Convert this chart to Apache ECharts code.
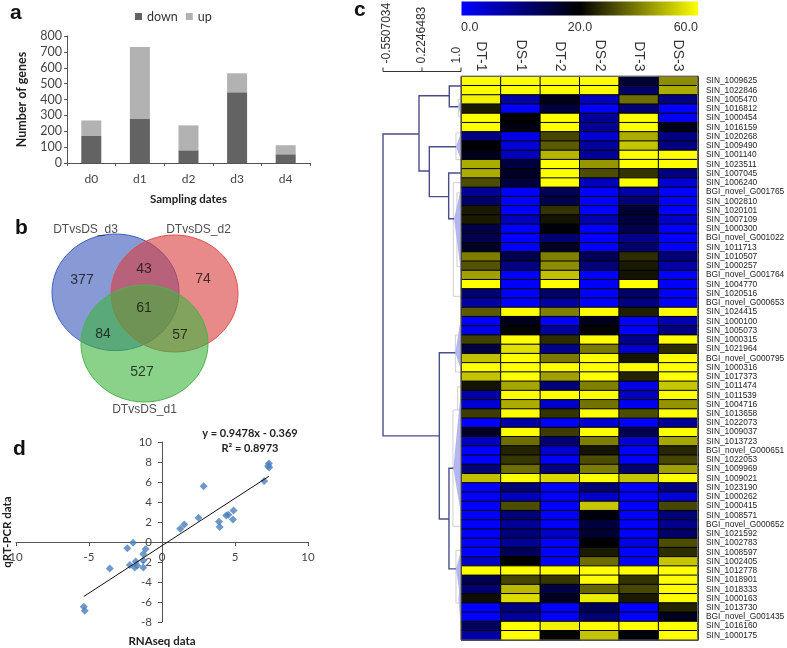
<!DOCTYPE html>
<html><head><meta charset="utf-8">
<style>html,body{margin:0;padding:0;background:#fff}#c{width:787px;height:648px}</style>
<script src="https://cdn.jsdelivr.net/npm/echarts@6/dist/echarts.min.js"></script>
</head><body><div id="c"></div>
<script>
// ---- panel a
const dates = ['d0','d1','d2','d3','d4'];
const downGenes = [170,280,80,445,55];
const upGenes = [98,450,157,120,57];
// ---- panel b
const vennNames = ['DTvsDS_d3','DTvsDS_d2','DTvsDS_d1'];
const vennCounts = [377,43,74,61,84,57,527];
// ---- panel c
const conditions = ['DT-1','DS-1','DT-2','DS-2','DT-3','DS-3'];
const genes = ['SIN_1009625','SIN_1022846','SIN_1005470','SIN_1016812','SIN_1000454','SIN_1016159','SIN_1020268','SIN_1009490','SIN_1001140','SIN_1023511','SIN_1007045','SIN_1006240','BGI_novel_G001765','SIN_1002810','SIN_1020101','SIN_1007109','SIN_1000300','BGI_novel_G001022','SIN_1011713','SIN_1010507','SIN_1000257','BGI_novel_G001764','SIN_1004770','SIN_1020516','BGI_novel_G000653','SIN_1024415','SIN_1000100','SIN_1005073','SIN_1000315','SIN_1021964','BGI_novel_G000795','SIN_1000316','SIN_1017373','SIN_1011474','SIN_1011539','SIN_1004716','SIN_1013658','SIN_1022073','SIN_1009037','SIN_1013723','BGI_novel_G000651','SIN_1022053','SIN_1009969','SIN_1009021','SIN_1023190','SIN_1000262','SIN_1000415','SIN_1008571','BGI_novel_G000652','SIN_1021592','SIN_1002783','SIN_1008597','SIN_1002405','SIN_1012778','SIN_1018901','SIN_1018333','SIN_1000163','SIN_1013730','BGI_novel_G001435','SIN_1016160','SIN_1000175'];
const dt1 = [60,60,58,24,60,60,10,20,18,47,47,32,8,12,24,24,14.5,14,17,39.6,33,45,60,11,7,34,0,2,30,15,50,60,50.5,23,7,3.5,29.4,0,17,5,0,0,10.5,50,0,0,0,0,0,0,0,0,4.3,60,14,11,22,0,0,13,7];
const ds1 = [60,60,7,0,20,18.5,2,3,5,15,17,15,0.5,0,0,5,0,0,0,14,10,0,0,0,0,60,18,20.5,60,55,60,60,60,46,60,46.7,60,7,60,37,25.5,28.6,37,60,10.5,5,32,10.5,8,10.5,8,13,20.5,60,31,49,54.5,10,8,60,60];
const dt2 = [60,60,18,15,60,60,31,34,48,60,60,60,13,14,28,23,19,11,17,40,42,50,60,12,7,40,0,7.5,27,9,39,60,45,10.5,60,4.3,28,0,29.4,11,3.5,0,10,54,0,0,0,0,0,4.3,0,0,0,60,28.6,14.5,17.6,0,0,57.6,20.5];
const ds2 = [60,60,5,0,8,8,3.5,7.5,8,43.5,32,5,0,0,0,6,0,0,0,13,10.5,0,0,0,0,60,18,20.5,60,39,60,60,60,40,60,38,60,3.5,60,39.6,23,32,39.6,60,11,4.3,51,19,15,16,19.6,24,37,60,60,35.7,57,13,11,60,50.5];
const dt3 = [16,12,37,11,60,60,47,51,60,60,28,60,7,10.5,16,15,14,9,11,27,24,23,60,12,10,25,0,0,9,3.5,23,60,25.5,2,5,1,32,0,14,3.5,0,0,11,50.5,0,0,0,0,0,0,2,0,0,60,28,31,24,0,0,60,19];
const ds3 = [42,47,10,0,1,18,10,10,60,60,10,3.5,0,0,0,4,0,0,0,10.5,7,0,0,0,0,60,6,10,60,27,60,60,60,51,60,43,60,8,60,46,26,31,45,60,10,3,31,10.5,9,12,32,27,51,60,60,60,60,25.5,17.6,60,60];
const columns = [dt1,ds1,dt2,ds2,dt3,ds3];
const colorTicks = ['0.0','20.0','60.0'];
const treeTicks = [-0.5507034,0.2246483,1.0];
const treeTickLabels = ['-0.5507034','0.2246483','1.0'];
// dendrogram: distance, row position
const treeLinks = [
 [[0.165,6.22],[-0.5507,6.22],[-0.5507,38.9],[0.569,38.9]],
 [[0.767,2.08],[0.165,2.08],[0.165,10.23],[0.370,10.23]],
 [[1,1.03],[0.767,1.03],[0.767,3.27],[0.946,3.27]],
 [[0.90,7.6],[0.370,7.6],[0.370,13.0],[0.755,13.0]],
 [[1,10.45],[0.755,10.45],[0.755,15.4],[0.861,15.4]],
 [[0.887,29.9],[0.569,29.9],[0.569,47.9],[0.761,47.9]],
 [[0.847,42.4],[0.761,42.4],[0.761,53.3],[0.90,53.3]]
];
const treeWedges = [[0.946,3.27,2.45,4.3],[0.90,7.6,6.1,9.0],[0.861,15.4,12.07,21.2],[0.887,29.9,26.0,31.8],[0.847,42.4,33.9,47.4],[0.90,53.3,51.3,57],[0.95,56.5,53,60]];
const treeBrackets = [[0.946,2.45,4.3],[0.90,6.1,9.0],[0.847,11.5,23.8],[0.92,12.6,20.6],[0.887,28,32],[0.934,33.6,36.1],[0.84,36.1,48.7],[0.90,51.3,57]];
// ---- panel d
const rnaSeq = [7.32,7.27,7.34,7.0,2.85,4.9,4.54,4.4,4.86,3.9,3.95,2.5,1.53,1.25,-1.98,-2.37,-1.12,-1.28,-1.28,-1.8,-2.2,-1.7,-1.87,-1.28,-3.58,-5.36,-5.29];
const qrtPcr = [7.84,7.6,7.44,6.1,5.58,3.16,2.72,2.66,2.26,2.03,1.5,2.43,1.76,1.33,-0.07,-0.63,-0.7,-1.2,-1.86,-1.96,-2.3,-2.36,-2.56,-2.56,-2.66,-6.48,-6.88];
const trendX = [-5.36,7.32];
const trendY = [-5.45,6.57];

// layout helpers (not data)
const latin = 'Lato, "Open Sans", sans-serif';
const arial = '"Liberation Sans", Arial, sans-serif';
const vennShapes = [[115.5,292.3,63.5,58.3,'#3956bb','#4060c0'],[174.5,293.5,63.5,58.5,'#d93c3c','#e05050'],[144.5,343.5,63.5,58.5,'#3cb43c','#50b050']];
const vennTextAt = [[82,280],[144,269],[203,279],[144,308],[103,334],[180,335],[142,372]];
const vennNameAt = [[85.5,230],[198.5,230],[144.5,410]];

const heat = [];
columns.forEach((col,c)=>col.forEach((v,r)=>heat.push([c,r,v])));

const option = {
 animation:false,
 backgroundColor:'#fff',
 textStyle:{fontFamily:latin},
 legend:{data:['down','up'],left:130,top:5,itemWidth:7,itemHeight:7,itemGap:8,icon:'rect',textStyle:{fontFamily:latin,fontSize:12.5,color:'#333'}},
 visualMap:{show:false,seriesIndex:2,min:0,max:60,inRange:{color:['#0000ff','#000000','#808000','#ffff00']}},
 grid:[
  {left:67,top:36,width:243,height:127,outerBoundsMode:'none'},
  {left:16,top:442,width:292,height:180,outerBoundsMode:'none'},
  {left:461.5,top:76.5,width:236.5,height:563.5,outerBoundsMode:'none'},
  {left:383,top:76.5,width:78,height:563.5,outerBoundsMode:'none'},
  {left:0,top:0,width:787,height:648,outerBoundsMode:'none'}
 ],
 xAxis:[
  {gridIndex:0,type:'category',data:dates,axisTick:{show:true,alignWithLabel:false,length:3},axisLine:{lineStyle:{color:'#555'}},axisLabel:{color:'#444',fontSize:12,margin:10,fontFamily:latin},name:'Sampling dates',nameLocation:'middle',nameGap:30,nameTextStyle:{fontFamily:latin,fontWeight:'bold',fontSize:11.5,color:'#222'}},
  {gridIndex:1,type:'value',min:-10,max:10,interval:5,offset:-80,axisLine:{onZero:false,lineStyle:{color:'#555'}},axisTick:{show:true,length:4,inside:false},splitLine:{show:false},axisLabel:{color:'#444',fontSize:11.5,margin:9,formatter:v=>v===-10?'10':String(v),fontFamily:latin},name:'RNAseq data',nameLocation:'middle',nameGap:93,nameMoveOverlap:false,nameTextStyle:{fontFamily:latin,fontWeight:'bold',fontSize:11.5,color:'#222'}},
  {gridIndex:2,type:'category',position:'top',data:conditions,axisLine:{show:false},axisTick:{show:false},splitArea:{show:false},axisLabel:{rotate:90,color:'#333',fontSize:14,margin:5,fontFamily:arial}},
  {gridIndex:3,type:'value',show:false,min:-0.5507034,max:1},
  {gridIndex:4,type:'value',show:false,min:0,max:787}
 ],
 yAxis:[
  {gridIndex:0,type:'value',min:0,max:800,interval:100,axisLine:{show:true,lineStyle:{color:'#555'}},axisTick:{show:true,length:3},splitLine:{show:false},axisLabel:{color:'#444',fontSize:12.5,margin:5,fontFamily:latin},name:'Number of genes',nameLocation:'middle',nameGap:39,nameTextStyle:{fontFamily:latin,fontWeight:'bold',fontSize:12.5,color:'#222'}},
  {gridIndex:1,type:'value',min:-8,max:10,interval:2,offset:-146,axisLine:{show:true,onZero:false,lineStyle:{color:'#555'}},axisTick:{show:true,length:4},splitLine:{show:false},axisLabel:{color:'#444',fontSize:11.5,margin:10,fontFamily:latin},name:'qRT-PCR data',nameLocation:'middle',nameGap:149,nameMoveOverlap:false,nameTextStyle:{fontFamily:latin,fontWeight:'bold',fontSize:11.5,color:'#222'}},
  {gridIndex:2,type:'category',inverse:true,position:'right',data:genes,axisLine:{show:false},axisTick:{show:false},axisLabel:{interval:0,color:'#222',fontSize:8.4,margin:8,fontFamily:arial}},
  {gridIndex:3,type:'value',show:false,min:0,max:61,inverse:true},
  {gridIndex:4,type:'value',show:false,min:0,max:648,inverse:true}
 ],
 series:[
  {type:'bar',name:'down',stack:'g',data:downGenes,xAxisIndex:0,yAxisIndex:0,barWidth:20,itemStyle:{color:'#636363'}},
  {type:'bar',name:'up',stack:'g',data:upGenes,xAxisIndex:0,yAxisIndex:0,barWidth:20,itemStyle:{color:'#b2b2b2'}},
  {type:'heatmap',data:heat,xAxisIndex:2,yAxisIndex:2,itemStyle:{borderColor:'#000',borderWidth:1}},
  {type:'scatter',data:rnaSeq.map((x,i)=>[x,qrtPcr[i]]),xAxisIndex:1,yAxisIndex:1,symbol:'diamond',symbolSize:8,itemStyle:{color:'#4a7ebb'}},
  {type:'line',data:trendX.map((x,i)=>[x,trendY[i]]),xAxisIndex:1,yAxisIndex:1,symbol:'none',lineStyle:{color:'#111',width:1}},
  // heat map frame
  {type:'custom',xAxisIndex:3,yAxisIndex:3,data:[[0,0]],silent:true,z:5,renderItem:(p,api)=>{
    const a=api.coord([1,0]),b=api.coord([1,61]);
    return {type:'rect',shape:{x:a[0],y:a[1],width:236.5,height:b[1]-a[1]},style:{fill:'none',stroke:'#666',lineWidth:1}};
  }},
  // dendrogram wedges
  {type:'custom',xAxisIndex:3,yAxisIndex:3,data:treeWedges,silent:true,z:2,renderItem:(p,api)=>{
    const tip=api.coord([api.value(0),api.value(1)]),t=api.coord([1,api.value(2)]),b=api.coord([1,api.value(3)]);
    return {type:'polygon',shape:{points:[tip,t,b]},style:{fill:'#b4b6f2'}};
  }},
  // dendrogram pale brackets
  {type:'custom',xAxisIndex:3,yAxisIndex:3,data:treeBrackets,silent:true,z:1,renderItem:(p,api)=>{
    const d=api.value(0),r1=api.value(1),r2=api.value(2);
    return {type:'polyline',shape:{points:[api.coord([1,r1]),api.coord([d,r1]),api.coord([d,r2]),api.coord([1,r2])]},style:{fill:'none',stroke:'#cfcfcf',lineWidth:1}};
  }},
  // dendrogram links
  {type:'custom',xAxisIndex:3,yAxisIndex:3,data:treeLinks.map((l,i)=>[i]),silent:true,z:3,renderItem:(p,api)=>{
    return {type:'polyline',shape:{points:treeLinks[api.value(0)].map(q=>api.coord(q))},style:{fill:'none',stroke:'#4a4e86',lineWidth:1.4}};
  }},
  // dendrogram scale
  {type:'custom',xAxisIndex:3,yAxisIndex:3,data:[[0]],silent:true,z:3,renderItem:(p,api)=>{
    const top=api.coord([0,0])[1];
    const y=top-5;
    const children=[{type:'line',shape:{x1:api.coord([treeTicks[0],0])[0],y1:y,x2:api.coord([treeTicks[2],0])[0],y2:y},style:{stroke:'#333',lineWidth:1}}];
    treeTicks.forEach((t,i)=>{
      const x=api.coord([t,0])[0];
      children.push({type:'line',shape:{x1:x,y1:y-4,x2:x,y2:y},style:{stroke:'#333',lineWidth:1}});
      children.push({type:'text',x:x+(i===0?4:(i===2?-4:0)),y:y-8,rotation:Math.PI/2,style:{text:treeTickLabels[i],fill:'#333',font:'12px '+arial,align:'left',verticalAlign:'middle'}});
    });
    return {type:'group',children};
  }},
  // venn
  {type:'custom',xAxisIndex:4,yAxisIndex:4,data:vennShapes.map((s,i)=>[i]),silent:true,z:2,renderItem:(p,api)=>{
    const s=vennShapes[api.value(0)],c=api.coord([s[0],s[1]]);
    return {type:'ellipse',shape:{cx:c[0],cy:c[1],rx:s[2],ry:s[3]},style:{fill:s[4],opacity:1,fillOpacity:0.6,stroke:s[5],lineWidth:1}};
  }},
  {type:'scatter',xAxisIndex:4,yAxisIndex:4,silent:true,z:4,symbolSize:0,data:vennCounts.map((v,i)=>({value:[vennTextAt[i][0],vennTextAt[i][1]],label:{formatter:String(v)}})),label:{show:true,position:'inside',color:'#111',fontSize:14,fontFamily:arial}},
  {type:'scatter',xAxisIndex:4,yAxisIndex:4,silent:true,z:4,symbolSize:0,data:vennNames.map((v,i)=>({value:[vennNameAt[i][0],vennNameAt[i][1]],label:{formatter:v}})),label:{show:true,position:'inside',color:'#222',fontSize:12,fontFamily:arial}}
 ],
 graphic:[
  {type:'rect',shape:{x:461.5,y:1.5,width:236.5,height:14},style:{fill:new echarts.graphic.LinearGradient(0,0,1,0,[{offset:0,color:'#0000ff'},{offset:0.5,color:'#000000'},{offset:1,color:'#ffff00'}])}},
  {type:'text',x:461,y:21,style:{text:colorTicks[0],fill:'#333',font:'12.5px '+arial,textAlign:'left'}},
  {type:'text',x:580,y:21,style:{text:colorTicks[1],fill:'#333',font:'12.5px '+arial,textAlign:'center'}},
  {type:'text',x:698,y:21,style:{text:colorTicks[2],fill:'#333',font:'12.5px '+arial,textAlign:'right'}},
  {type:'text',x:10,y:3,style:{text:'a',fill:'#111',font:'bold 21px '+arial}},
  {type:'text',x:15,y:218,style:{text:'b',fill:'#111',font:'bold 21px '+arial}},
  {type:'text',x:354,y:0,style:{text:'c',fill:'#111',font:'bold 21px '+arial}},
  {type:'text',x:13,y:439,style:{text:'d',fill:'#111',font:'bold 21px '+arial}},
  {type:'text',x:250,y:433,style:{text:'y = 0.9478x - 0.369',fill:'#222',font:'bold 11px '+latin,textAlign:'center',textVerticalAlign:'middle'}},
  {type:'text',x:250,y:448,style:{text:'R² = 0.8973',fill:'#222',font:'bold 11px '+latin,textAlign:'center',textVerticalAlign:'middle'}}
 ]
};
const chart = echarts.init(document.getElementById('c'),null,{renderer:'canvas'});
chart.setOption(option);
</script></body></html>
